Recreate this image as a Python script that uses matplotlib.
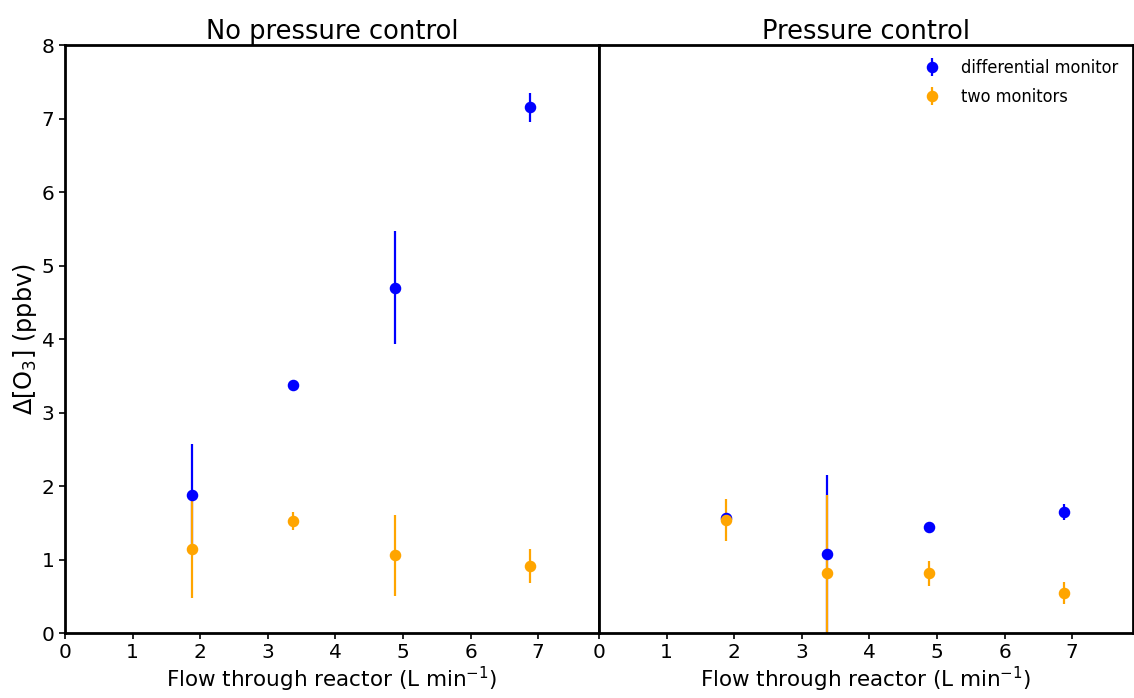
import matplotlib
matplotlib.use("Agg")
import matplotlib.pyplot as plt
from matplotlib import font_manager
import numpy as np

# flow through reactor (L/min)
flow = [1.88, 3.38, 4.88, 6.88]

# no pressure control
nopc_diff = [1.88, 3.37, 4.70, 7.15]
nopc_diff_err = [0.69, 0.05, 0.77, 0.20]
nopc_two = [1.14, 1.52, 1.06, 0.91]
nopc_two_err = [0.67, 0.12, 0.55, 0.23]

# pressure control
pc_diff = [1.57, 1.08, 1.44, 1.65]
pc_diff_err = [0.05, 1.07, 0.03, 0.11]
pc_two = [1.54, 0.82, 0.81, 0.54]
pc_two_err = [0.29, 1.06, 0.17, 0.15]

titles = ["No pressure control", "Pressure control"]
xticks = [0, 1, 2, 3, 4, 5, 6, 7]
yticks = [0, 1, 2, 3, 4, 5, 6, 7, 8]

fig = plt.figure(figsize=(11.34, 6.98), dpi=100)
ax1 = fig.add_axes([0.0573, 0.0931, 0.4709, 0.8424])
ax2 = fig.add_axes([0.5282, 0.0931, 0.4709, 0.8424])

panels = [(ax1, nopc_diff, nopc_diff_err, nopc_two, nopc_two_err),
          (ax2, pc_diff, pc_diff_err, pc_two, pc_two_err)]

for i, (ax, d, de, t, te) in enumerate(panels):
    ax.errorbar(flow, d, yerr=de, fmt='o', color='blue', markersize=7.3,
                elinewidth=1.6, label='differential monitor')
    ax.errorbar(flow, t, yerr=te, fmt='o', color='orange', markersize=7.3,
                elinewidth=1.6, label='two monitors')
    ax.set_xlim(0, 7.9)
    ax.set_ylim(0, 8)
    ax.set_xticks(xticks)
    ax.set_title(titles[i], fontsize=18.5, pad=4)
    ax.set_xlabel('Flow through reactor (L min$^{-1}$)', fontsize=15.5, labelpad=2)
    ax.tick_params(labelsize=14.5, width=1.2, length=4)
    for sp in ax.spines.values():
        sp.set_linewidth(2)

ax1.set_yticks(yticks)
ax1.set_ylabel(r'$\Delta$[O$_3$] (ppbv)', fontsize=17.3, labelpad=2)
ax2.set_yticks([])

legfont = font_manager.FontProperties(family='DejaVu Sans', stretch='condensed', size=13)
ax2.legend(loc='upper right', frameon=False, borderaxespad=0.4, labelspacing=0.6,
           handletextpad=0.6, prop=legfont)

fig.savefig('out.png', dpi=100)
